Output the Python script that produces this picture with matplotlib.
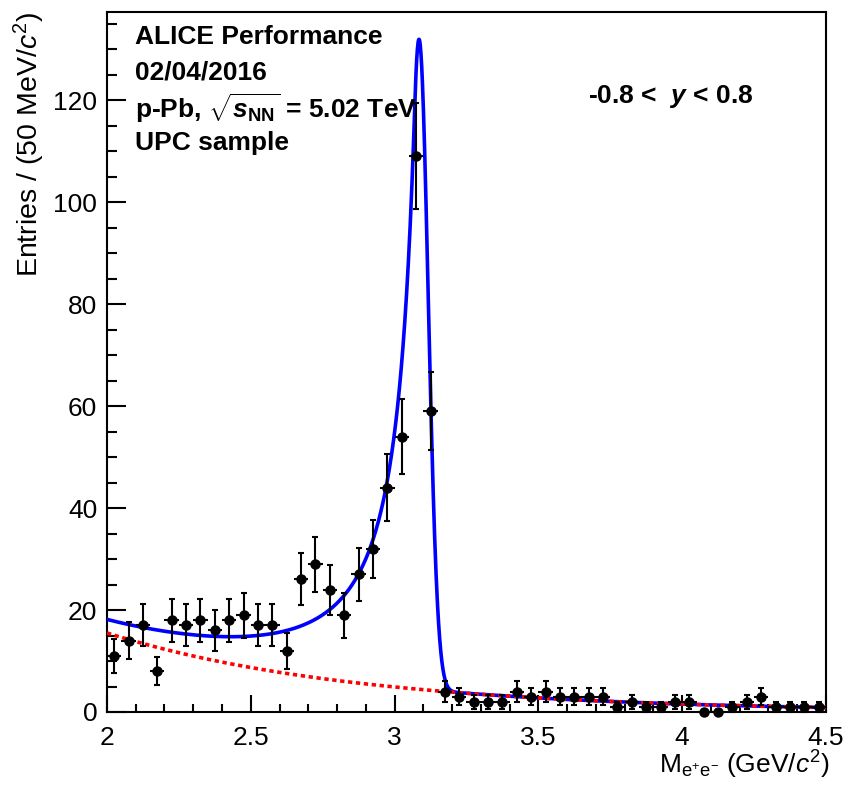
import matplotlib
matplotlib.use("Agg")
import matplotlib.pyplot as plt
import numpy as np
from matplotlib.ticker import MultipleLocator

plt.rcParams['font.family'] = ['Liberation Sans', 'DejaVu Sans']
plt.rcParams['mathtext.fontset'] = 'custom'
plt.rcParams['mathtext.rm'] = 'Liberation Sans'
plt.rcParams['mathtext.it'] = 'Liberation Sans:italic'
plt.rcParams['mathtext.bf'] = 'Liberation Sans:bold'
plt.rcParams['mathtext.bfit'] = 'Liberation Sans:bold:italic'

# invariant mass bins (GeV/c^2), 50 MeV wide
mass = [2.025, 2.075, 2.125, 2.175, 2.225, 2.275, 2.325, 2.375, 2.425, 2.475,
        2.525, 2.575, 2.625, 2.675, 2.725, 2.775, 2.825, 2.875, 2.925, 2.975,
        3.025, 3.075, 3.125, 3.175, 3.225, 3.275, 3.325, 3.375, 3.425, 3.475,
        3.525, 3.575, 3.625, 3.675, 3.725, 3.775, 3.825, 3.875, 3.925, 3.975,
        4.025, 4.075, 4.125, 4.175, 4.225, 4.275, 4.325, 4.375, 4.425, 4.475]
entries = [11, 14, 17, 8, 18, 17, 18, 16, 18, 19,
           17, 17, 12, 26, 29, 24, 19, 27, 32, 44,
           54, 109, 59, 4, 3, 2, 2, 2, 4, 3,
           4, 3, 3, 3, 3, 1, 2, 1, 1, 2,
           2, 0, 0, 1, 2, 3, 1, 1, 1, 1]
entries_err = [3.3, 3.7, 4.1, 2.8, 4.2, 4.1, 4.2, 4.0, 4.2, 4.4,
               4.1, 4.1, 3.5, 5.1, 5.4, 4.9, 4.4, 5.2, 5.7, 6.6,
               7.3, 10.4, 7.7, 2.0, 1.7, 1.4, 1.4, 1.4, 2.0, 1.7,
               2.0, 1.7, 1.7, 1.7, 1.7, 1.0, 1.4, 1.0, 1.0, 1.4,
               1.4, 0.0, 0.0, 1.0, 1.4, 1.7, 1.0, 1.0, 1.0, 1.0]
half_bin = 0.025

# fit parameters: Crystal Ball signal + exponential background
cb_norm = 127.5
cb_mean = 3.085
cb_sigma = 0.032
cb_alpha = 0.5
cb_n = 1.5
bkg_norm = 15.5
bkg_slope = 1.15


def crystal_ball(x):
    t = (x - cb_mean) / cb_sigma
    a = (cb_n / cb_alpha) ** cb_n * np.exp(-0.5 * cb_alpha ** 2)
    b = cb_n / cb_alpha - cb_alpha
    tail = a * np.power(np.clip(b - t, 1e-9, None), -cb_n)
    return cb_norm * np.where(t > -cb_alpha, np.exp(-0.5 * t ** 2), tail)


def background(x):
    return bkg_norm * np.exp(-bkg_slope * (x - 2.0))


fig = plt.figure(figsize=(8.62, 7.87), dpi=100)
ax = fig.add_axes([0.1241, 0.0953, 0.8341, 0.8895])

xf = np.linspace(2.0, 4.5, 2000)
ax.plot(xf, crystal_ball(xf) + background(xf), color='#0000ff', lw=2.6, zorder=3)
ax.plot(xf, background(xf), color='#ff0000', lw=2.6, linestyle=(0, (1.2, 1.0)), zorder=4)

ax.errorbar(mass, entries, yerr=entries_err, fmt='none', ecolor='black',
            elinewidth=1.5, capsize=2.5, capthick=1.5, zorder=5, clip_on=False)
ax.errorbar(mass, entries, xerr=half_bin, fmt='o', color='black', ms=6.5,
            elinewidth=1.5, capsize=0, zorder=6, clip_on=False)

ax.set_xlim(2.0, 4.5)
ax.set_ylim(0, 137.3)
ax.xaxis.set_major_locator(MultipleLocator(0.5))
ax.xaxis.set_minor_locator(MultipleLocator(0.1))
ax.yaxis.set_major_locator(MultipleLocator(20))
ax.yaxis.set_minor_locator(MultipleLocator(5))
ax.set_xticks([2, 2.5, 3, 3.5, 4, 4.5])
ax.set_xticklabels(['2', '2.5', '3', '3.5', '4', '4.5'])
ax.tick_params(axis='both', which='both', direction='in', top=False, right=False,
               labelsize=19, width=1.5)
ax.tick_params(axis='x', which='major', length=12, pad=10)
ax.tick_params(axis='x', which='minor', length=6)
ax.tick_params(axis='y', which='major', length=14, pad=7)
ax.tick_params(axis='y', which='minor', length=7)
for s in ax.spines.values():
    s.set_linewidth(1.5)

ax.set_xlabel(r'M$_{\mathregular{e^{+}e^{-}}}$ (GeV/$c^{2}$)', fontsize=19, loc='right')
ax.set_ylabel(r'Entries / (50 MeV/$c^{2}$)', fontsize=20.5, loc='top')
ax.xaxis.set_label_coords(1.005, -0.052)
ax.yaxis.set_label_coords(-0.083, 1.0)

tx = 135 / 862
fig.text(tx, 1 - 37 / 787, 'ALICE Performance', fontsize=19, fontweight='bold', va='center')
fig.text(tx, 1 - 72 / 787, '02/04/2016', fontsize=19, fontweight='bold', va='center')
fig.text(tx, 1 - 108 / 787, r'p-Pb, $\sqrt{\mathbfit{s}_{\mathbf{NN}}}$ = 5.02 TeV',
         fontsize=19, fontweight='bold', va='center')
fig.text(tx, 1 - 143 / 787, 'UPC sample', fontsize=19, fontweight='bold', va='center')
fig.text(588 / 862, 1 - 96 / 787, r'-0.8 <  $\mathbfit{y}$ < 0.8', fontsize=19,
         fontweight='bold', va='center')

fig.savefig('out.png', dpi=100)
